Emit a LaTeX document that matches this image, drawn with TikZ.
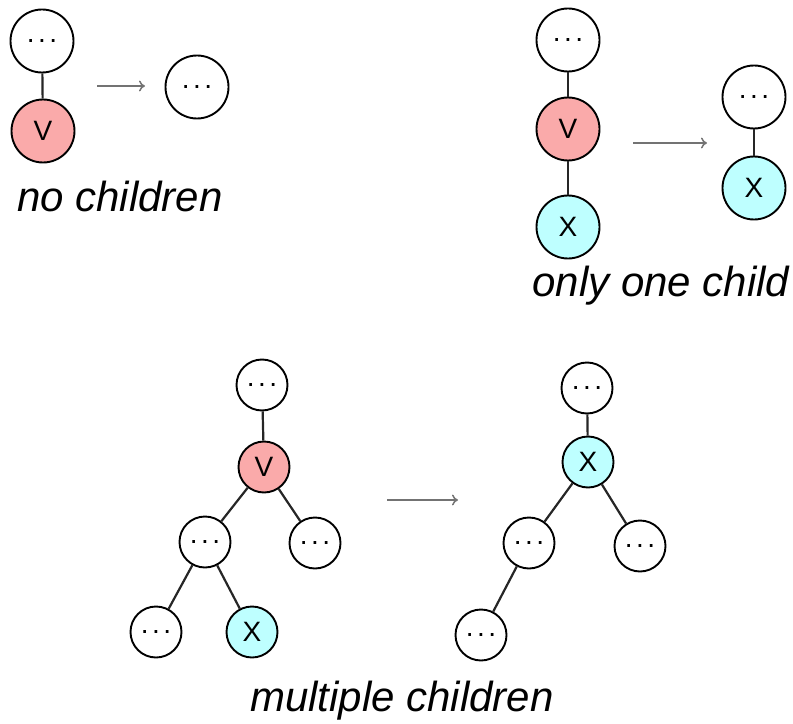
\documentclass[tikz,border=0pt]{standalone}
\usepackage{fontspec}
\setmainfont{Liberation Sans}
\usepackage{xcolor}
\usetikzlibrary{arrows.meta}

\definecolor{vpink}{RGB}{250,170,170}
\definecolor{xcyan}{RGB}{190,255,255}

% spaced-out dots for the unnamed nodes
\newcommand{\nodedots}{.\kern3.5bp.\kern3.5bp.}

\tikzset{
  big/.style={circle, draw=black, line width=1.9bp, fill=white, minimum size=63bp, inner sep=0pt,
    font=\fontsize{28bp}{30bp}\selectfont},
  small/.style={circle, draw=black, line width=1.9bp, fill=white, minimum size=51bp, inner sep=0pt,
    font=\fontsize{28bp}{30bp}\selectfont},
  vnode/.style={fill=vpink},
  xnode/.style={fill=xcyan},
  link/.style={draw=black!85, line width=2.2bp},
  move/.style={draw=black!55, line width=1.5bp, -{To[length=6bp,width=11bp]}},
  caption/.style={anchor=base, font=\fontsize{42bp}{46bp}\selectfont\itshape}
}

\begin{document}
\begin{tikzpicture}[x=1bp, y=-1bp]
\useasboundingbox (0,0) rectangle (793,724);

% no children
\node[big] (a1) at (42,41) {\nodedots};
\node[big, vnode] (av) at (43,131) {V};
\node[big] (a2) at (197,87) {\nodedots};
\draw[link] (a1) -- (av);
\coordinate (afrom) at (97,86);
\coordinate (ato) at (145,86);
\draw[move] (afrom) -- (ato);
\node[caption] (acap) at (120,211) {no children};

% only one child
\node[big] (b1) at (568,40) {\nodedots};
\node[big, vnode] (bv) at (568,129) {V};
\node[big, xnode] (bx) at (568,227) {X};
\node[big] (b2) at (754,97) {\nodedots};
\node[big, xnode] (by) at (754,188) {X};
\draw[link] (b1) -- (bv);
\draw[link] (bv) -- (bx);
\draw[link] (b2) -- (by);
\coordinate (bfrom) at (633,143);
\coordinate (bto) at (707,143);
\draw[move] (bfrom) -- (bto);
\node[caption] (bcap) at (661,296) {only one child};

% multiple children
\node[small] (c1) at (262,385) {\nodedots};
\node[small, vnode] (cv) at (264,467) {V};
\node[small] (cl) at (205,542) {\nodedots};
\node[small] (cr) at (315,543) {\nodedots};
\node[small] (cll) at (156,632) {\nodedots};
\node[small, xnode] (cx) at (252,632) {X};
\draw[link] (c1) -- (cv);
\draw[link] (cv) -- (cl);
\draw[link] (cv) -- (cr);
\draw[link] (cl) -- (cll);
\draw[link] (cl) -- (cx);

\coordinate (cfrom) at (387,500);
\coordinate (cto) at (458,500);
\draw[move] (cfrom) -- (cto);

\node[small] (d1) at (587,388) {\nodedots};
\node[small, xnode] (dx) at (588,462) {X};
\node[small] (dl) at (529,543) {\nodedots};
\node[small] (dr) at (640,546) {\nodedots};
\node[small] (dll) at (481,635) {\nodedots};
\draw[link] (d1) -- (dx);
\draw[link] (dx) -- (dl);
\draw[link] (dx) -- (dr);
\draw[link] (dl) -- (dll);

\node[caption] (ccap) at (402,711) {multiple children};
\end{tikzpicture}
\end{document}
